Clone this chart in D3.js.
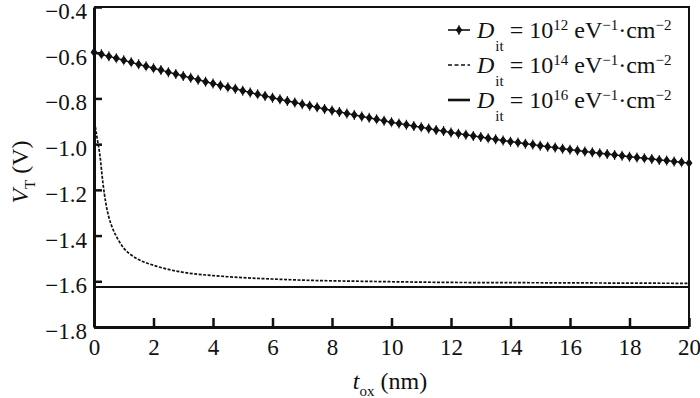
<!DOCTYPE html>
<html>
<head>
<meta charset="utf-8">
<script src="https://cdn.jsdelivr.net/npm/d3@7"></script>
</head>
<body style="margin:0">
<div id="chart"></div>
<script>
// t_ox (nm) for the D_it = 1e12 series (one marker every 0.25 nm)
const tMarked = d3.range(0, 20.001, 0.25);
const vt1e12 = [
  -0.598, -0.607, -0.616, -0.624, -0.633, -0.642, -0.651, -0.659, -0.668,
  -0.676, -0.685, -0.693, -0.702, -0.710, -0.718, -0.727, -0.735,
  -0.743, -0.751, -0.758, -0.766, -0.774, -0.782, -0.789, -0.797,
  -0.804, -0.811, -0.818, -0.825, -0.832, -0.839, -0.846, -0.853,
  -0.859, -0.866, -0.872, -0.879, -0.885, -0.891, -0.898, -0.904,
  -0.910, -0.915, -0.921, -0.926, -0.932, -0.938, -0.943, -0.949,
  -0.954, -0.959, -0.964, -0.969, -0.974, -0.979, -0.984, -0.989,
  -0.993, -0.998, -1.002, -1.007, -1.011, -1.015, -1.020, -1.024,
  -1.028, -1.032, -1.036, -1.040, -1.043, -1.047, -1.051, -1.055,
  -1.058, -1.062, -1.065, -1.069, -1.072, -1.076, -1.079, -1.083
];

// D_it = 1e14 series
const t1e14 = [0, 0.1, 0.2, 0.3, 0.4, 0.5, 0.6, 0.8, 1.0, 1.25, 1.5, 2.0, 2.5, 3, 4, 5, 6, 7, 8, 9, 10, 12, 14, 16, 18, 20];
const vt1e14 = [-0.885, -0.97, -1.05, -1.17, -1.26, -1.32, -1.36, -1.415, -1.455, -1.485, -1.505, -1.53, -1.548, -1.561, -1.575, -1.584, -1.59, -1.595, -1.598, -1.600, -1.602, -1.605, -1.606, -1.607, -1.608, -1.609];

// D_it = 1e16 series
const t1e16 = [0, 5, 10, 15, 20];
const vt1e16 = [-1.625, -1.625, -1.625, -1.625, -1.625];

const xTicks = [0, 2, 4, 6, 8, 10, 12, 14, 16, 18, 20];
const yTicks = [-1.8, -1.6, -1.4, -1.2, -1.0, -0.8, -0.6, -0.4];
const legendExps = ["12", "14", "16"];

const W = 700, H = 398;
const FONT = "\"Liberation Serif\"";
const x = d3.scaleLinear().domain([0, 20]).range([94, 689]);
const y = d3.scaleLinear().domain([-1.8, -0.4]).range([327, 7]);

const svg = d3.select("#chart").append("svg")
    .attr("width", W)
    .attr("height", H)
    .style("display", "block");

// frame (top / right thinner)
svg.append("path")
    .attr("d", `M${x(0)},${y(-0.4)}H${x(20)}V${y(-1.8)}`)
    .attr("fill", "none")
    .attr("stroke", "#111")
    .attr("stroke-width", 2);

// axes with inward ticks
const xAxis = svg.append("g")
    .attr("transform", `translate(0,${y(-1.8)})`)
    .call(d3.axisBottom(x).tickValues(xTicks).tickSizeInner(-9).tickSizeOuter(0).tickPadding(12).tickFormat(d3.format("d")));
const yAxis = svg.append("g")
    .attr("transform", `translate(${x(0)},0)`)
    .call(d3.axisLeft(y).tickValues(yTicks).tickSizeInner(-8).tickSizeOuter(0).tickPadding(7).tickFormat(d3.format(".1f")));

[xAxis, yAxis].forEach(g => {
  g.attr("font-family", null).attr("font-size", null);
  g.select(".domain").attr("stroke", "#111").attr("stroke-width", 3);
  g.selectAll(".tick line").attr("stroke", "#111").attr("stroke-width", 2.5);
  g.selectAll(".tick text")
    .style("font-family", FONT)
    .style("font-size", "23px")
    .attr("fill", "#111");
});
xAxis.selectAll(".tick text").attr("dy", "0.71em");
yAxis.selectAll(".tick text").attr("dy", "0.5em");

// series
const line = d3.line().x(d => x(d[0])).y(d => y(d[1]));

svg.append("path")
    .datum(t1e16.map((t, i) => [t, vt1e16[i]]))
    .attr("d", line)
    .attr("fill", "none").attr("stroke", "#111").attr("stroke-width", 1.8);

svg.append("path")
    .datum(t1e14.map((t, i) => [t, vt1e14[i]]))
    .attr("d", d3.line().x(d => x(d[0])).y(d => y(d[1])).curve(d3.curveMonotoneX))
    .attr("fill", "none").attr("stroke", "#111").attr("stroke-width", 1.7)
    .attr("stroke-dasharray", "3,1.5");

const pts1 = tMarked.map((t, i) => [t, vt1e12[i]]);
svg.append("path")
    .datum(pts1)
    .attr("d", line)
    .attr("fill", "none").attr("stroke", "#111").attr("stroke-width", 1.4);

const marker = "M0,-5V5M-2.8,0L0,-3.8L2.8,0L0,3.8Z";
svg.append("g").selectAll("path")
    .data(pts1)
    .join("path")
    .attr("transform", d => `translate(${x(d[0])},${y(d[1])})`)
    .attr("d", marker)
    .attr("fill", "#111").attr("stroke", "#111").attr("stroke-width", 1.1);

// legend
const legend = svg.append("g");
const rowY = [30, 65, 100];
legendExps.forEach((e, i) => {
  const cy = rowY[i];
  const sym = legend.append("g");
  if (i === 0) {
    sym.append("line").attr("x1", 448).attr("x2", 470).attr("y1", cy).attr("y2", cy)
      .attr("stroke", "#111").attr("stroke-width", 1.6);
    sym.append("path").attr("transform", `translate(459,${cy})`).attr("d", marker)
      .attr("fill", "#111").attr("stroke", "#111").attr("stroke-width", 1);
  } else {
    sym.append("line").attr("x1", 448).attr("x2", 470).attr("y1", cy).attr("y2", cy)
      .attr("stroke", "#111").attr("stroke-width", i === 1 ? 1.6 : 2.6)
      .attr("stroke-dasharray", i === 1 ? "4,2.5" : null);
  }
  const txt = legend.append("text")
      .attr("x", 477).attr("y", cy + 8)
      .style("font-family", FONT)
      .style("font-size", "24px").attr("fill", "#111");
  txt.append("tspan").style("font-style", "italic").text("D");
  txt.append("tspan").style("font-size", "15px").attr("dy", 13).attr("dx", 1).text("it");
  txt.append("tspan").attr("dy", -13).text(" = 10");
  txt.append("tspan").style("font-size", "15px").attr("dy", -8).text(e);
  txt.append("tspan").attr("dy", 8).text(" eV");
  txt.append("tspan").style("font-size", "15px").attr("dy", -8).text("\u22121");
  txt.append("tspan").attr("dy", 8).text("\u00b7cm");
  txt.append("tspan").style("font-size", "15px").attr("dy", -8).text("\u22122");
});

// axis titles
const xt = svg.append("text")
    .attr("x", 390).attr("y", 389)
    .attr("text-anchor", "middle")
    .style("font-family", FONT)
    .style("font-size", "24px").attr("fill", "#111");
xt.append("tspan").style("font-style", "italic").text("t");
xt.append("tspan").style("font-size", "15px").attr("dy", 7).text("ox");
xt.append("tspan").attr("dy", -7).text(" (nm)");

const yt = svg.append("text")
    .attr("transform", "translate(28,172) rotate(-90)")
    .attr("text-anchor", "middle")
    .style("font-family", FONT)
    .style("font-size", "24px").attr("fill", "#111");
yt.append("tspan").style("font-style", "italic").text("V");
yt.append("tspan").style("font-size", "15px").attr("dy", 7).text("T");
yt.append("tspan").attr("dy", -7).text(" (V)");
</script>
</body>
</html>
